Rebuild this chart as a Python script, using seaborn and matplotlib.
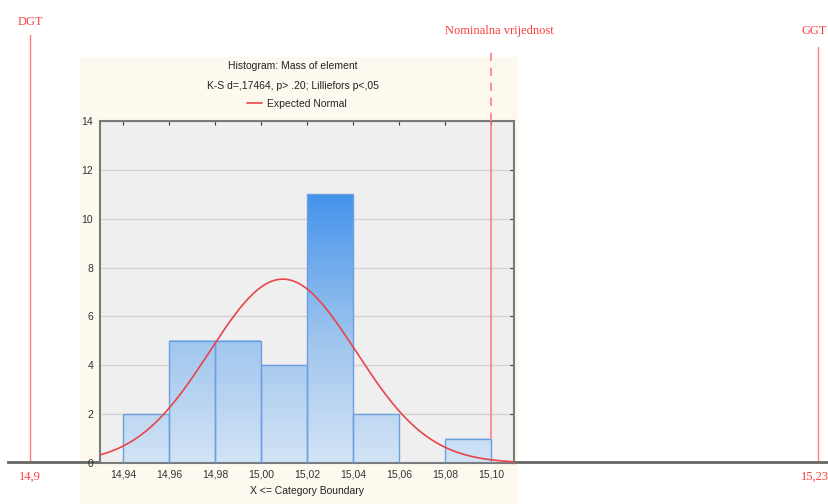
import numpy as np
import matplotlib
matplotlib.use('Agg')
import matplotlib.pyplot as plt
import matplotlib.transforms as mtransforms
from matplotlib.colors import LinearSegmentedColormap
from matplotlib.patches import Rectangle
import seaborn as sns

# histogram data (Statistica output, X <= category boundary)
bin_edges = [14.94, 14.96, 14.98, 15.00, 15.02, 15.04, 15.06, 15.08, 15.10]
counts = [2, 5, 5, 4, 11, 2, 0, 1]
x_ticks = [14.94, 14.96, 14.98, 15.00, 15.02, 15.04, 15.06, 15.08, 15.10]
x_ticklabels = ['14,94', '14,96', '14,98', '15,00', '15,02', '15,04', '15,06', '15,08', '15,10']
y_ticks = [0, 2, 4, 6, 8, 10, 12, 14]

# expected normal parameters
n_obs = 30
norm_mean = 15.0095
norm_sd = 0.0318

# tolerance limits and nominal value
dgt = 14.9
ggt = 15.23
nominal = 15.10
limit_labels = ['14,9', '15,23']

sns.set_style('white')
plt.rcParams['font.family'] = ['Liberation Sans Narrow', 'Liberation Sans', 'DejaVu Sans']

W, H = 829, 504
fig = plt.figure(figsize=(W / 100, H / 100), dpi=100)
fig.patch.set_facecolor('white')

red_txt = '#ff3c3c'
red_line = '#ff7f7f'
serif = ['Liberation Serif', 'DejaVu Serif']

# cream panel behind the Statistica graph
fig.patches.append(Rectangle((80 / W, 0), 438 / W, 447 / H, transform=fig.transFigure,
                             facecolor='#fdf9ee', edgecolor='none', zorder=-1))

# outer axis with DGT / GGT
outer = fig.add_axes([8 / W, 42 / H, 821 / W, 462 / H], zorder=0)
outer.set_facecolor('none')
px = (ggt - dgt) / 788
outer.set_xlim(dgt - 22 * px, ggt + 11 * px)
outer.set_ylim(0, 1)
for s in ['top', 'left', 'right']:
    outer.spines[s].set_visible(False)
outer.spines['bottom'].set_color('#666666')
outer.spines['bottom'].set_linewidth(2)
outer.set_yticks([])
outer.set_xticks([dgt, ggt])
outer.set_xticklabels(limit_labels, color=red_txt, fontsize=9, family=serif)
outer.tick_params(axis='x', length=0, pad=6)
shift = mtransforms.ScaledTranslation(-3 / 100, 0, fig.dpi_scale_trans)
lab_r = outer.get_xticklabels()[1]
lab_r.set_transform(lab_r.get_transform() + shift)
outer.axvline(dgt, ymin=0, ymax=(462 - 35) / 462, color=red_line, lw=1)
outer.axvline(ggt, ymin=0, ymax=(462 - 47) / 462, color=red_line, lw=1)
outer.text(dgt, (462 - 22) / 462, 'DGT', color=red_txt, fontsize=9, family=serif,
           ha='center', va='center')
outer.text(ggt - 4 * px, (462 - 31) / 462, 'GGT', color=red_txt, fontsize=9, family=serif,
           ha='center', va='center')

# inner histogram
ax = fig.add_axes([100 / W, 41 / H, 414 / W, 342 / H], zorder=1)
ax.set_facecolor('#efefef')
mids = [(a + b) / 2 for a, b in zip(bin_edges[:-1], bin_edges[1:])]
sns.histplot(x=mids, weights=counts, bins=bin_edges, ax=ax, stat='count',
             facecolor='none', edgecolor='#6d9fe0', linewidth=1, zorder=3)

cmap = LinearSegmentedColormap.from_list('bars', [(0, '#d2e3f5'), (5 / 11, '#a0c6ee'), (1, '#4593ec')])
for a, b, c in zip(bin_edges[:-1], bin_edges[1:], counts):
    if c == 0:
        continue
    grad = np.linspace(0, c, 200)[:, None]
    ax.imshow(grad, extent=[a, b, 0, c], origin='lower', cmap=cmap, vmin=0, vmax=11,
              aspect='auto', zorder=2)

xs = np.linspace(14.93, 15.11, 300)
ys = n_obs * 0.02 * np.exp(-0.5 * ((xs - norm_mean) / norm_sd) ** 2) / (norm_sd * np.sqrt(2 * np.pi))
sns.lineplot(x=xs, y=ys, ax=ax, color='#e8454a', lw=1.2, label='Expected Normal', zorder=4)

# nominal value line
ax.axvline(nominal, color=red_line, lw=1.2, zorder=1.5)
blend = mtransforms.blended_transform_factory(ax.transData, fig.transFigure)
ax.plot([nominal, nominal], [(H - 121) / H, (H - 47) / H], transform=blend, clip_on=False,
        color=red_line, lw=1.2, ls=(0, (5, 4)), zorder=5)
ax.annotate('Nominalna vrijednost', xy=(nominal, (H - 31) / H), xycoords=blend,
            xytext=(6, 0), textcoords='offset points', ha='center', va='center',
            color=red_txt, fontsize=9, family=serif, annotation_clip=False)

ax.set_xlim(14.93, 15.11)
ax.set_ylim(0, 14)
ax.set_xticks(x_ticks)
ax.set_xticklabels(x_ticklabels)
ax.set_yticks(y_ticks)
ax.yaxis.grid(True, color='#d2d2d2', lw=1)
ax.set_axisbelow(True)
ax.tick_params(axis='both', labelsize=7.5, colors='#333333', direction='in', length=3,
               top=True, right=True, pad=5)
for s in ax.spines.values():
    s.set_color('#7a7a7a')
    s.set_linewidth(1.5)
ax.set_xlabel('X <= Category Boundary', fontsize=7.5, color='#222222', labelpad=4)
ax.set_ylabel('')

leg = ax.get_legend()
handles, labels = ax.get_legend_handles_labels()
leg.remove()
fig.legend(handles, labels, loc='center', bbox_to_anchor=(297 / W, 1 - 104 / H), frameon=False,
           fontsize=7.5, handlelength=1.4, handletextpad=0.5)

fig.text(293 / W, 1 - 66 / H, 'Histogram: Mass of element', ha='center', va='center',
         fontsize=7.5, color='#222222')
fig.text(293 / W, 1 - 86 / H, 'K-S d=,17464, p> .20; Lilliefors p<,05', ha='center', va='center',
         fontsize=7.5, color='#222222')

fig.savefig('out.png', dpi=100)
